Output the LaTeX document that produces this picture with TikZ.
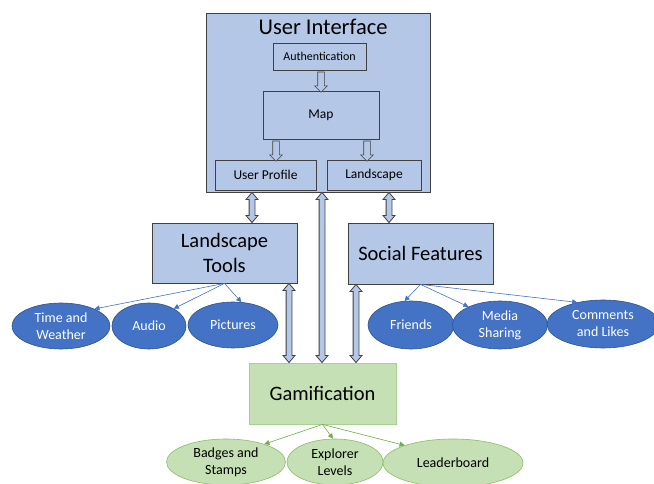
\documentclass[tikz,border=0pt]{standalone}
\usepackage{fontspec}
\setmainfont{Carlito}
\usetikzlibrary{shapes.geometric,shapes.arrows,calc,arrows.meta}
\definecolor{boxblue}{HTML}{B4C7E7}
\definecolor{edge}{HTML}{404040}
\definecolor{ellblue}{HTML}{4472C4}
\definecolor{ellblueedge}{HTML}{2F528F}
\definecolor{grfill}{HTML}{C5E0B4}
\definecolor{gredge}{HTML}{A9D18E}
\definecolor{grline}{HTML}{70AD47}
\begin{document}
\begin{tikzpicture}[x=1pt,y=-1pt,
  box/.style={draw=edge, fill=boxblue, line width=0.8pt, rectangle, inner sep=0pt, align=center},
  gbox/.style={draw=gredge, fill=grfill, line width=0.8pt, rectangle, inner sep=0pt, align=center},
  bell/.style={ellipse, draw=ellblueedge, fill=ellblue, line width=0.6pt, inner sep=0pt, align=center, text=white, font=\fontsize{14}{17}\selectfont},
  gell/.style={ellipse, draw=grline!80, fill=grfill, line width=0.6pt, inner sep=0pt, align=center, font=\fontsize{14}{17}\selectfont},
  dblshape/.style={double arrow, draw=edge, fill=boxblue, line width=0.8pt, inner xsep=0pt, inner ysep=2.5pt, minimum width=0pt, double arrow head extend=3pt, double arrow tip angle=80},
  sglshape/.style={single arrow, draw=edge, fill=boxblue, line width=0.6pt, inner xsep=0pt, inner ysep=3pt, minimum width=0pt, single arrow head extend=3pt, single arrow tip angle=90},
  blockarrow/.style={to path={let \p1=(\tikztostart), \p2=(\tikztotarget), \n1={veclen(\x2-\x1,\y2-\y1)}, \n2={atan2(\y2-\y1,\x2-\x1)} in node[dblshape, minimum height=\n1, rotate=\n2] at ($(\p1)!0.5!(\p2)$) {}}},
  hollowarrow/.style={to path={let \p1=(\tikztostart), \p2=(\tikztotarget), \n1={veclen(\x2-\x1,\y2-\y1)}, \n2={atan2(\y2-\y1,\x2-\x1)} in node[sglshape, minimum height=\n1, rotate=\n2] at ($(\p1)!0.5!(\p2)$) {}}},
  bline/.style={draw=ellblue, line width=0.6pt, -{Triangle[length=5pt,width=5pt]}},
  gline/.style={draw=grline, line width=0.6pt, -{Triangle[length=5pt,width=5pt]}},
  big/.style={font=\fontsize{20.5}{25}\selectfont},
  small/.style={font=\fontsize{13.5}{16}\selectfont},
]
\useasboundingbox (0,0) rectangle (654,484);
\fill[white] (0,0) rectangle (654,484);

% User interface
\node[box, minimum width=224pt, minimum height=179pt] (ui) at (318,102.5) {};
\node[font=\fontsize{22.5}{27}\selectfont, inner sep=0pt] (uit) at (323,27) {User Interface};
\node[box, minimum width=93pt, minimum height=27pt, font=\fontsize{12}{14}\selectfont] (auth) at (319.5,56.5) {Authentication};
\node[box, small, minimum width=116pt, minimum height=48pt] (map) at (321,115) {Map};
\node[box, small, minimum width=101pt, minimum height=30pt] (up) at (265.5,175) {User Profile};
\node[box, small, minimum width=94pt, minimum height=30pt] (ls) at (374,175) {Landscape};

\path[hollowarrow] (321,0 |- auth.south) to (321,0 |- map.north);
\path[hollowarrow] (276,0 |- map.south) to (276,0 |- up.north);
\path[hollowarrow] (367,0 |- map.south) to (367,0 |- ls.north);

% second row
\node[box, big, minimum width=145pt, minimum height=60pt] (lt) at (224.5,253) {Landscape\\Tools};
\node[box, big, minimum width=145pt, minimum height=61pt] (sf) at (420.5,253.5) {Social Features};
\node[gbox, big, minimum width=147pt, minimum height=61pt] (gm) at (322.5,393.5) {Gamification};

% block arrows
\path[blockarrow] (252,0 |- ui.south) to (252,0 |- lt.north);
\path[blockarrow] (389,0 |- ui.south) to (389,0 |- sf.north);
\path[blockarrow] (322,0 |- ui.south) to (322,0 |- gm.north);
\path[blockarrow] (289,0 |- lt.south) to (289,0 |- gm.north);
\path[blockarrow] (356,0 |- sf.south) to (356,0 |- gm.north);

% blue ellipses
\node[bell, minimum width=98pt, minimum height=46pt] (tw) at (61,326) {Time and\\Weather};
\node[bell, minimum width=74pt, minimum height=46pt] (au) at (149,326) {Audio};
\node[bell, minimum width=90pt, minimum height=46pt] (pi) at (233,325) {Pictures};
\node[bell, minimum width=86pt, minimum height=48pt] (fr) at (411,325) {Friends};
\node[bell, minimum width=95pt, minimum height=48pt] (ms) at (500,325) {Media\\Sharing};
\node[bell, minimum width=112pt, minimum height=48pt] (cl) at (603,324) {Comments\\and Likes};

% green ellipses
\node[gell, minimum width=119pt, minimum height=46pt] (bs) at (226,462) {Badges and\\Stamps};
\node[gell, minimum width=96pt, minimum height=46pt] (el) at (335,462) {Explorer\\Levels};
\node[gell, minimum width=140pt, minimum height=48pt] (lb) at (453,463) {Leaderboard};

% thin arrows
\draw[bline] (lt.south) -- (tw.27);
\draw[bline] (lt.south) -- (au.35);
\draw[bline] (lt.south) -- (pi.70);
\draw[bline] (sf.south) -- (fr.105);
\draw[bline] (sf.south) -- (ms.150);
\draw[bline] (sf.south) -- (cl.140);
\draw[gline] (gm.south) -- (bs.25);
\draw[gline] (gm.south) -- (el.95);
\draw[gline] (gm.south) -- (lb.160);
\end{tikzpicture}
\end{document}
